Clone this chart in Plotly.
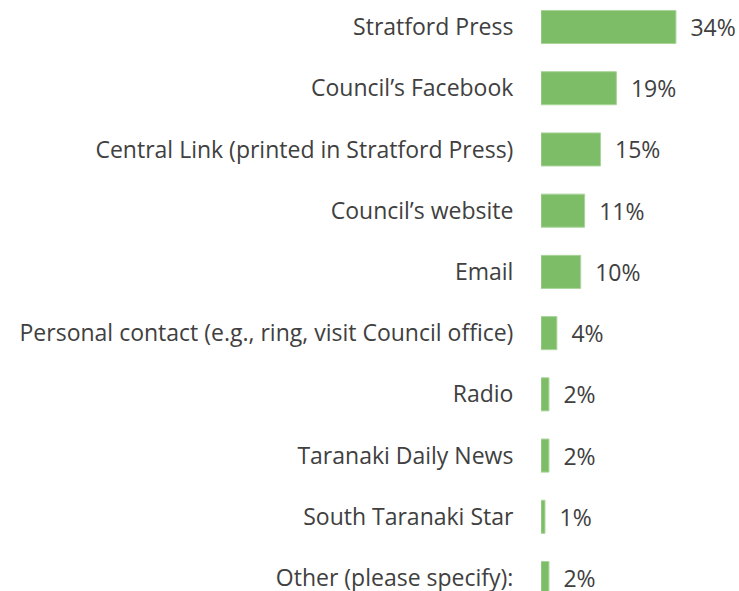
import plotly.graph_objects as go

# survey categories, top to bottom
sources = [
    "Stratford Press",
    "Council\u2019s Facebook",
    "Central Link (printed in Stratford Press)",
    "Council\u2019s website",
    "Email",
    "Personal contact (e.g., ring, visit Council office)",
    "Radio",
    "Taranaki Daily News",
    "South Taranaki Star",
    "Other (please specify):",
]
percent = [34, 19, 15, 11, 10, 4, 2, 2, 1, 2]

fig = go.Figure()
fig.add_trace(go.Bar(
    x=percent,
    y=sources,
    orientation="h",
    width=0.54,
    marker=dict(color="#7dbd67", line=dict(color="#a9d49a", width=1)),
    text=[f"\u2002{p}%" for p in percent],
    textposition="outside",
    textfont=dict(size=23, color="#404040"),
    cliponaxis=False,
))

fig.update_layout(
    width=739,
    height=591,
    margin=dict(l=541, r=0, t=0, b=0),
    plot_bgcolor="white",
    paper_bgcolor="white",
    font=dict(family="Open Sans", size=23, color="#404040"),
    showlegend=False,
    xaxis=dict(range=[0, 49.9], visible=False),
    yaxis=dict(
        type="category",
        range=[9.212, -0.441],
        showgrid=False,
        zeroline=False,
        showline=False,
        ticks="outside",
        ticklen=22,
        tickcolor="rgba(0,0,0,0)",
        tickfont=dict(size=23, color="#404040"),
        automargin=False,
    ),
)

# drop the default page margin so the figure sits at the window corner
fig.write_html("out.html", config={"displayModeBar": False},
               post_script="document.body.style.margin='0';")
